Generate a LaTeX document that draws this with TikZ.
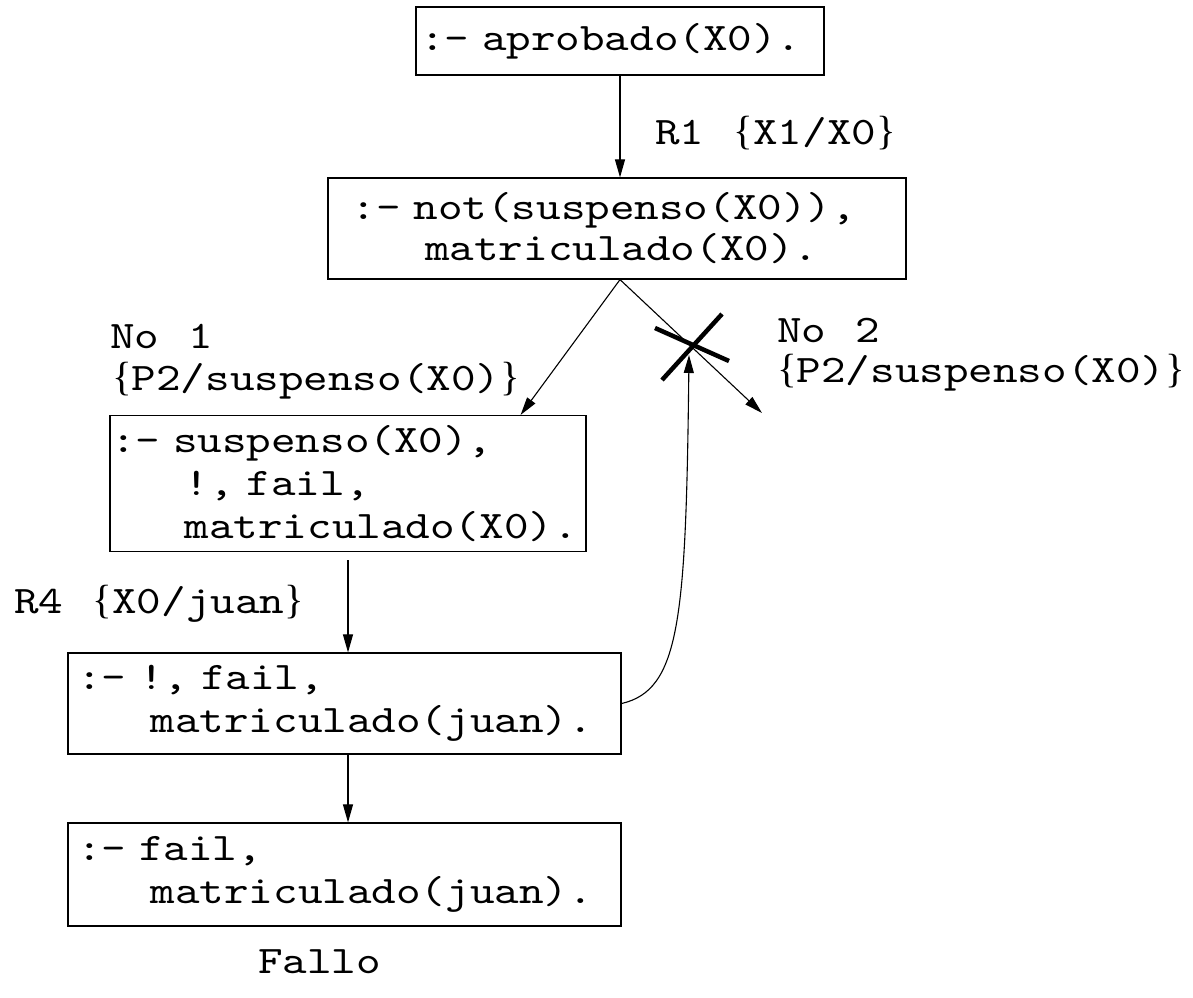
\documentclass[tikz,border=0pt]{standalone}
\usepackage{fontspec}
\newfontfamily\courfont[FakeStretch=1.2,WordSpace=1.2]{lmmono10-regular.otf}
\newfontfamily\bracefont{Liberation Serif}
\usetikzlibrary{arrows.meta,calc}
\newcommand\lbr{{\bracefont\fontsize{40.8}{43}\selectfont\{}}
\newcommand\rbr{{\bracefont\fontsize{40.8}{43}\selectfont\}}}
\newcommand\ind{\hphantom{xxx}}
\begin{document}
\begin{tikzpicture}[x=1pt,y=-1pt,
  txt/.style={font=\courfont\fontsize{39}{43}\selectfont},
  goal/.style={txt,draw,line width=1.2pt,align=left,inner ysep=0pt,anchor=center},
  arr/.style={line width=1.1pt,-{Triangle[length=18pt,width=10pt]}},
  lbl/.style={txt,inner sep=0pt,anchor=base west},
  cut/.style={line width=4.5pt}]
\useasboundingbox (0,0) rectangle (1193,997);

\node[goal,minimum width=408pt,minimum height=68pt,text width=400pt,inner xsep=4pt] (A) at (620,41) {:- aprobado(X0).};
\node[goal,font=\courfont\fontsize{39}{41}\selectfont,minimum width=578pt,minimum height=101pt,text width=531pt,inner xsep=23.5pt] (B) at (617,228.5) {:- not(suspenso(X0)),\\\ind matriculado(X0).};
\node[goal,minimum width=476pt,minimum height=136pt,text width=474pt,inner xsep=1pt] (C) at (348,483.5) {:- suspenso(X0),\\\ind !, fail,\\\ind matriculado(X0).};
\node[goal,minimum width=553pt,minimum height=101pt,text width=535pt,inner xsep=9pt] (D) at (344.5,703.5) {:- !, fail,\\\ind matriculado(juan).};
\node[goal,minimum width=553pt,minimum height=103pt,text width=535pt,inner xsep=9pt] (E) at (344.5,874.5) {:- fail,\\\ind matriculado(juan).};

\node[lbl] (r1) at (655,144) {R1 \lbr X1/X0\rbr};
\node[lbl] (r4) at (14,613) {R4 \lbr X0/juan\rbr};
\node[lbl] (no1) at (110,348) {No 1};
\node[lbl] (s1) at (112,390) {\lbr P2/suspenso(X0)\rbr};
\node[lbl] (no2) at (777,342) {No 2};
\node[lbl] (s2) at (777,382) {\lbr P2/suspenso(X0)\rbr};
\node[lbl] (fallo) at (258,973) {Fallo};

\coordinate (Bap) at (B.south -| A.south);
\coordinate (t1) at ([xshift=-66pt]C.north east);
\coordinate (t2) at (762,413);
\coordinate (xt) at (689,355);

\draw[arr] (A.south) -- (A.south |- B.north);
\draw[arr] (Bap) -- (t1);
\draw[arr] (Bap) -- (t2);
\draw[arr] ([yshift=-8pt]C.south) -- (C.south |- D.north);
\draw[arr] (D.south -| C.south) -- (E.north -| C.south);
\draw[arr] (D.east) .. controls (680,690) and (686,620) .. (xt);

\draw[cut] (655,328) -- (729,361);
\draw[cut] (722,314) -- (662,380);
\end{tikzpicture}
\end{document}
